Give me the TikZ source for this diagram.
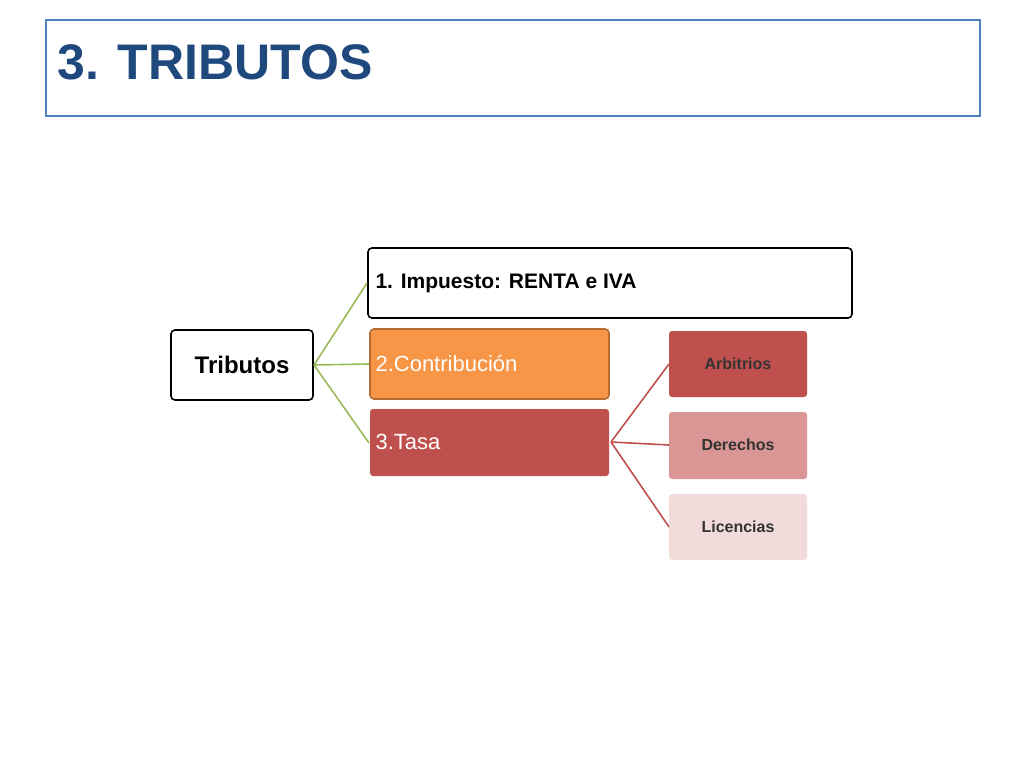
\documentclass[tikz,border=0pt]{standalone}
\usepackage{fontspec}
\setmainfont{Liberation Sans}
\begin{document}
\begin{tikzpicture}[x=1pt,y=-1pt,
 box/.style={rounded corners=4pt,inner sep=0pt,line width=1.6pt},
 lk/.style={line width=1.6pt}]
\useasboundingbox (0,0) rectangle (1024,768);
\definecolor{tblue}{HTML}{1F497D}
\definecolor{bblue}{HTML}{4F81BD}
\definecolor{gr}{HTML}{9BBB59}
\definecolor{org}{HTML}{F79646}
\definecolor{dorg}{HTML}{B66D31}
\definecolor{rd}{HTML}{C0504D}
\definecolor{rd2}{HTML}{D99694}
\definecolor{rd3}{HTML}{F2DCDB}
\draw[bblue,line width=1.5pt] (46,20) rectangle (980,116);
\node[anchor=west,text=tblue,font=\fontsize{50}{56}\selectfont\bfseries] (title) at (54,62) {3. TRIBUTOS};
\draw[box,black] (171,330) rectangle (313,400);
\node[font=\fontsize{24}{28}\selectfont\bfseries] (trib) at (242,365) {Tributos};
\draw[box,black] (368,248) rectangle (852,318);
\node[anchor=west,font=\fontsize{21}{25}\selectfont\bfseries] (imp) at (372,283) {1. Impuesto: RENTA e IVA};
\draw[box,draw=dorg,fill=org] (370,329) rectangle (609,399);
\node[anchor=west,text=white,font=\fontsize{22}{26}\selectfont] (con) at (372,364) {2.Contribución};
\draw[rounded corners=3pt,fill=rd,draw=none] (370,409) rectangle (609,476);
\node[anchor=west,text=white,font=\fontsize{22}{26}\selectfont] (tas) at (372,442) {3.Tasa};
\draw[rounded corners=3pt,fill=rd,draw=none] (669,331) rectangle (807,397);
\node[font=\fontsize{16}{20}\selectfont\bfseries,text=black!80] (arb) at (738,364) {Arbitrios};
\draw[rounded corners=3pt,fill=rd2,draw=none] (669,412) rectangle (807,479);
\node[font=\fontsize{16}{20}\selectfont\bfseries,text=black!80] (der) at (738,445) {Derechos};
\draw[rounded corners=3pt,fill=rd3,draw=none] (669,494) rectangle (807,560);
\node[font=\fontsize{16}{20}\selectfont\bfseries,text=black!80] (lic) at (738,527) {Licencias};
\coordinate (g0) at (314,365);
\coordinate (r0) at (611,442);
\draw[lk,gr] (g0) -- (367,283);
\draw[lk,gr] (g0) -- (369,364);
\draw[lk,gr] (g0) -- (369,443);
\draw[lk,rd] (r0) -- (669,364);
\draw[lk,rd] (r0) -- (669,445);
\draw[lk,rd] (r0) -- (669,527);
\end{tikzpicture}
\end{document}
